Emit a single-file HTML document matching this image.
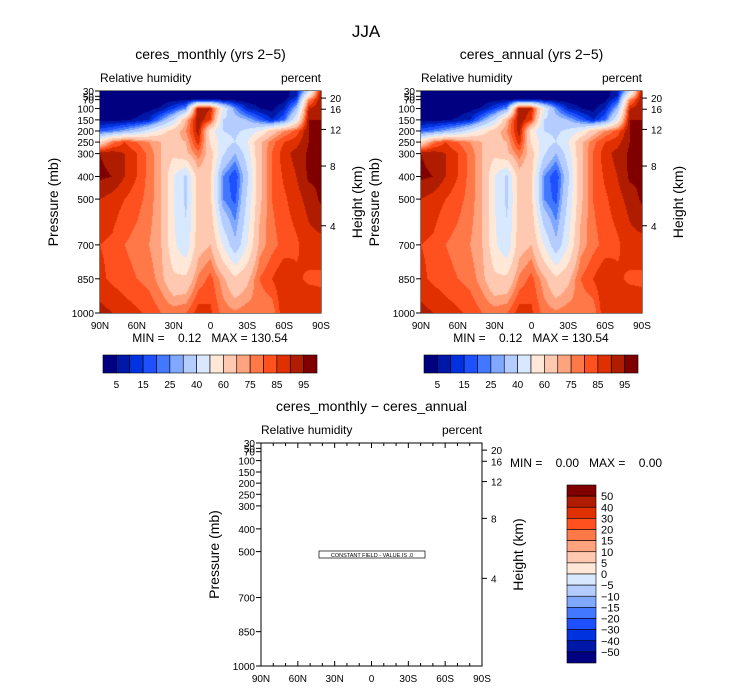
<!DOCTYPE html>
<html><head><meta charset="utf-8">
<style>
html,body{margin:0;padding:0;background:#fff;}
body{width:733px;height:689px;position:relative;overflow:hidden;font-family:"Liberation Sans","DejaVu Sans",sans-serif;color:#000;}
svg{position:absolute;left:0;top:0;}
canvas{position:absolute;}
</style></head>
<body>
<svg id="chart" width="733" height="689" viewBox="0 0 733 689"></svg>
<canvas id="cv1" width="221" height="222" style="left:100px;top:91px"></canvas>
<canvas id="cv2" width="221" height="222" style="left:421px;top:91px"></canvas>
<script>
// ---- data ----
const lats = [90,80,70,60,50,40,30,20,10,0,-10,-20,-30,-40,-50,-60,-70,-80,-90];
const levels = [30,50,70,100,150,200,250,300,400,500,700,850,1000];
const levelOffsetFrac = [0,0.024,0.039,0.079,0.13,0.18,0.23,0.282,0.385,0.487,0.693,0.846,1];
const rh = [
 [2,2,2,2,2,2,2,2,2,2,2,2,2,2,2,2,8,40,95],
 [2,2,2,2,2,2,2,2,2,2,2,2,2,2,2,2,10,60,95],
 [2,2,2,2,2,2,3,4,6,6,5,3,2,2,2,3,15,75,95],
 [2,2,2,2,3,6,15,25,95,90,50,25,10,5,3,10,30,90,95],
 [3,3,4,6,10,25,40,70,95,85,40,35,30,20,10,20,50,95,95],
 [18,22,28,35,45,55,65,75,93,55,40,38,42,50,65,75,82,95,95],
 [60,78,85,80,75,70,68,70,88,58,45,40,50,68,78,85,88,95,95],
 [95,93,90,85,78,70,62,68,78,65,42,30,45,68,80,88,92,96,96],
 [96,95,90,85,78,70,50,38,66,62,25,15,38,68,80,86,90,96,96],
 [90,88,85,82,78,70,50,38,64,62,25,18,42,68,80,84,88,92,96],
 [85,84,80,78,75,70,52,42,66,70,50,32,50,72,78,82,84,88,88],
 [86,84,82,80,78,72,62,62,76,82,72,62,68,80,85,90,86,84,84],
 [92,90,88,86,84,80,78,80,88,86,78,76,78,76,76,90,90,90,88]
];
const rhBounds = [5,10,15,20,25,30,40,50,60,70,75,80,85,90,95];
const rhLabels = ["5","15","25","40","60","75","85","95"];
const diffLabels = ["50","40","30","20","15","10","5","0","\u22125","\u221210","\u221215","\u221220","\u221230","\u221240","\u221250"];
const pressureTicks = ["30","50","70","100","150","200","250","300","400","500","700","850","1000"];
const heightTicks = [20,16,12,8,4];
const heightOffsetFrac = [0.032,0.082,0.173,0.338,0.607];
const latTickLabels = ["90N","60N","30N","0","30S","60S","90S"];
const colors = ["#000080","#0018a8","#0032e0","#1e50ff","#4278ff","#80a8ff","#b4ccff","#d8e8ff","#ffe8d8","#ffc8b0","#ffa27e","#ff7848","#ff5020","#e03000","#b01c00","#800000"];

const NS="http://www.w3.org/2000/svg";
const svg=document.getElementById('chart');
function el(tag,attrs,txt){const e=document.createElementNS(NS,tag);for(const k in attrs)e.setAttribute(k,attrs[k]);if(txt!==undefined)e.textContent=txt;svg.appendChild(e);return e;}
function text(x,y,s,size,anchor,name,rot){const t=el('text',{x:x,y:y,'font-size':size,'text-anchor':anchor||'start','font-family':'Liberation Sans, DejaVu Sans, sans-serif'},s);
t.setAttribute('style','white-space:pre');
if(rot)t.setAttribute('transform','rotate(-90 '+x+' '+y+')');

return t;}

function colorIndex(v){let i=0;while(i<rhBounds.length&&v>=rhBounds[i])i++;return i;}
function hex(c){return [parseInt(c.substr(1,2),16),parseInt(c.substr(3,2),16),parseInt(c.substr(5,2),16)];}

function yFromLevelIdx(f,top,h){const i=Math.floor(f),t=f-i;const a=levelOffsetFrac[Math.min(i,levels.length-1)],b=levelOffsetFrac[Math.min(i+1,levels.length-1)];return top+h*(a+(b-a)*t);}
function levelIdxFromFrac(fr){for(let i=0;i<levelOffsetFrac.length-1;i++){if(fr<=levelOffsetFrac[i+1]){return i+(fr-levelOffsetFrac[i])/(levelOffsetFrac[i+1]-levelOffsetFrac[i]);}}return levelOffsetFrac.length-1;}
function xFromLat(lat,left,w){return left+w*(90-lat)/180;}

function drawField(id){
 const cv=document.getElementById(id),ctx=cv.getContext('2d');
 const W=cv.width,H=cv.height,img=ctx.createImageData(W,H);
 const pal=colors.map(hex);
 for(let py=0;py<H;py++){
  const li=levelIdxFromFrac((py+0.5)/H);const i0=Math.min(Math.floor(li),levels.length-2),ty=li-i0;
  for(let px=0;px<W;px++){
   const lf=(px+0.5)/W*(lats.length-1);const j0=Math.min(Math.floor(lf),lats.length-2),tx=lf-j0;
   const v=(rh[i0][j0]*(1-tx)+rh[i0][j0+1]*tx)*(1-ty)+(rh[i0+1][j0]*(1-tx)+rh[i0+1][j0+1]*tx)*ty;
   const c=pal[colorIndex(v)];const k=(py*W+px)*4;
   img.data[k]=c[0];img.data[k+1]=c[1];img.data[k+2]=c[2];img.data[k+3]=255;
  }
 }
 ctx.putImageData(img,0,0);
}
drawField('cv1');drawField('cv2');

function panel(left,top,w,h,title,prefix){
 text(left+w/2,top-32,title,14,'middle',prefix+'-title');
 text(left,top-9,'Relative humidity',12,'start',prefix+'-variable-label');
 text(left+w,top-9,'percent',12,'end',prefix+'-units-label');
 const fr=el('rect',{x:left,y:top,width:w,height:h,fill:'none',stroke:'#000','stroke-width':1});
 
 levels.forEach((p,i)=>{const y=yFromLevelIdx(i,top,h);
  el('line',{x1:left-5,x2:left,y1:y,y2:y,stroke:'#000'});
  text(left-6,y+4,pressureTicks[i],10,'end',prefix+'-pressure-tick-'+pressureTicks[i]);});
 heightTicks.forEach((z,i)=>{const y=top+h*heightOffsetFrac[i];
  el('line',{x1:left+w,x2:left+w+5,y1:y,y2:y,stroke:'#000'});
  text(left+w+9,y+4,String(z),10,'start',prefix+'-height-tick-'+z);});
 for(let lat=90;lat>=-90;lat-=10){const x=xFromLat(lat,left,w);const major=lat%30===0;const L=major?5:3;
  el('line',{x1:x,x2:x,y1:top,y2:top+L,stroke:'#000'});el('line',{x1:x,x2:x,y1:top+h,y2:top+h-L,stroke:'#000'});}
 latTickLabels.forEach((s,i)=>{const x=xFromLat(90-30*i,left,w);text(x,top+h+16,s,10,'middle',prefix+'-lat-tick-'+s);});
 text(left-42,top+h/2,'Pressure (mb)',14,'middle',prefix+'-y-axis-title',true);
 text(left+w+41,top+h/2,'Height (km)',14,'middle',prefix+'-height-axis-title',true);
}
text(366,37,'JJA',17,'middle','main-title');
panel(100,91,221,222,'ceres_monthly (yrs 2\u22125)','monthly');
panel(421,91,221,222,'ceres_annual (yrs 2\u22125)','annual');
panel(261,443,221,223,'ceres_monthly \u2212 ceres_annual','diff');

function hbar(left,prefix,cx){
 text(cx,342,'MIN =    0.12   MAX = 130.54',12,'middle',prefix+'-min-max');
 const bw=214/16;
 colors.forEach((c,i)=>{const r=el('rect',{x:left+i*bw,y:355,width:bw,height:18,fill:c,stroke:'#000','stroke-width':0.6});
  });
 rhLabels.forEach((s,i)=>text(left+(2*i+1)*bw,388,s,10,'middle',prefix+'-colorbar-label-'+s));
}
hbar(103,'monthly',210);hbar(424,'annual',531);

text(510,467,'MIN =    0.00   MAX =    0.00',12,'start','diff-min-max');
const vb=178/16;
colors.slice().reverse().forEach((c,i)=>{const r=el('rect',{x:567,y:485+i*vb,width:29,height:vb,fill:c,stroke:'#000','stroke-width':0.6});
 });
diffLabels.forEach((s,i)=>text(601,485+(i+1)*vb+4,s,11,'start','diff-colorbar-label'));
const cb=el('rect',{x:319,y:551,width:106,height:7,fill:'#fff',stroke:'#000','stroke-width':0.7});

text(372,557,'CONSTANT FIELD - VALUE IS .0',5.5,'middle','constant-field-label');
</script>
</body></html>
